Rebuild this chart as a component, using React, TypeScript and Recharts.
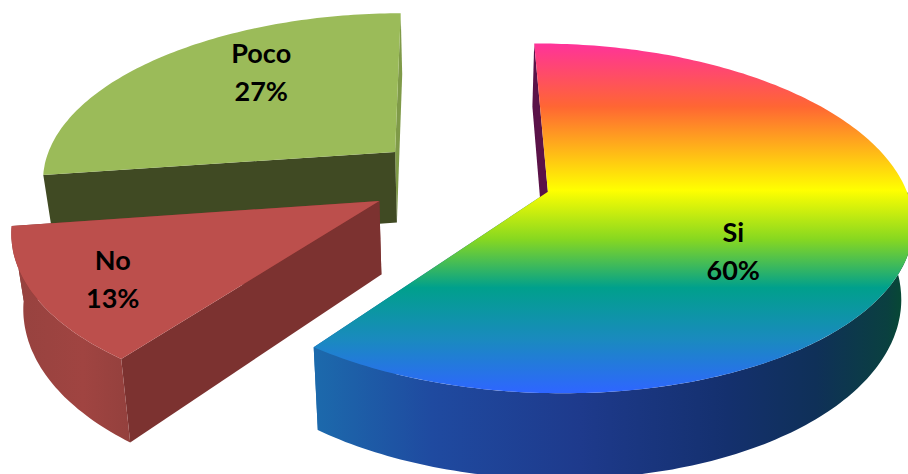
import React from 'react';
import { PieChart, Pie } from 'recharts';

const categories = ['Poco', 'No', 'Si'];
const shares = [27.1, 12.5, 60.4];

const topFills = ['#9bbb59', '#bc4f4c', 'url(#siTop)'];
const wallFills = [null, 'url(#noWall)', 'url(#siWall)'];
const startCutFills = ['#7f9a48', '#7c3230', '#1c6aac'];
const endCutFills = ['#404a23', '#7c3230', '#5a1248'];
const labelRadii = [0.62, 0.85, 0.56];

const siTopStops: Array<[number, string]> = [
  [0, '#ff3399'],
  [0.18, '#ff6633'],
  [0.42, '#ffff00'],
  [0.56, '#88d820'],
  [0.7, '#00a08c'],
  [0.85, '#1a8abf'],
  [1, '#2e66ff'],
];
const siWallStops: Array<[number, string]> = [
  [0, '#1c6aac'],
  [0.2, '#1f4aa0'],
  [0.45, '#1e3a8c'],
  [0.7, '#14306e'],
  [0.85, '#0f3058'],
  [0.97, '#0a4040'],
  [1, '#064a32'],
];

const ASPECT = 167 / 355;
const PERSPECTIVE = 0.15;
const DEPTH = 72;
const TAPER = 0.027;
const EXPLODE = 0.243;
// small per-slice corrections in pixels
const sliceNudges = [[-3, -5], [-7, -3], [3, -4]];
const labelNudges = [[15, -21], [12, -5], [-9, 25]];

const rad = (a: number) => (a * Math.PI) / 180;

function projector(cx: number, cy: number, r: number, midAngle: number, index: number) {
  const ox = EXPLODE * Math.cos(rad(midAngle));
  const oy = -EXPLODE * Math.sin(rad(midAngle));
  const [nx, ny] = sliceNudges[index];
  return (angle: number, f: number, h: number) => {
    const u = ox + f * Math.cos(rad(angle));
    const v = oy - f * Math.sin(rad(angle));
    const s = 1 / (1 - PERSPECTIVE * v);
    const x = cx + r * u * s * (1 - TAPER * h) + nx;
    const y = cy + r * ASPECT * v * s + DEPTH * s * h + ny;
    return `${x.toFixed(1)},${y.toFixed(1)}`;
  };
}

function arc(p: ReturnType<typeof projector>, from: number, to: number, h: number) {
  const pts: string[] = [];
  const n = Math.max(2, Math.ceil(Math.abs(to - from)));
  for (let i = 0; i <= n; i++) pts.push(p(from + ((to - from) * i) / n, 1, h));
  return pts;
}

function Slice(props: any) {
  const { cx, cy, outerRadius, startAngle, endAngle, midAngle, index } = props;
  const p = projector(cx, cy, outerRadius, midAngle, index);
  const a0 = startAngle;
  const a1 = endAngle;
  const top = [p(a0, 0, 0), ...arc(p, a0, a1, 0)];
  // only the part of the rim facing the viewer gets a wall (angles below the horizon)
  const wFrom = Math.max(a0, 180);
  const wTo = Math.min(a1, 360);
  const wall = wallFills[index] && wTo > wFrom ? [...arc(p, wFrom, wTo, 0), ...arc(p, wTo, wFrom, 1)] : null;
  const startCut = [p(a0, 0, 0), p(a0, 1, 0), p(a0, 1, 1), p(a0, 0, 1)];
  const endCut = [p(a1, 0, 0), p(a1, 1, 0), p(a1, 1, 1), p(a1, 0, 1)];
  return (
    <g>
      <polygon points={startCut.join(' ')} fill={startCutFills[index]} />
      <polygon points={endCut.join(' ')} fill={endCutFills[index]} />
      {wall && <polygon points={wall.join(' ')} fill={wallFills[index] as string} />}
      <polygon points={top.join(' ')} fill={topFills[index]} />
    </g>
  );
}

function SliceLabel(props: any) {
  const { cx, cy, outerRadius, midAngle, percent, index, name } = props;
  const ox = (EXPLODE + labelRadii[index]) * Math.cos(rad(midAngle));
  const oy = -(EXPLODE + labelRadii[index]) * Math.sin(rad(midAngle));
  const s = 1 / (1 - 0.135 * oy);
  const x = cx + outerRadius * ox * s + labelNudges[index][0];
  const y = cy + 170 * oy * s + labelNudges[index][1];
  return (
    <text
      x={x}
      y={y}
      textAnchor="middle"
      fill="#000"
      fontFamily="Lato"
      fontWeight={700}
      fontSize={27}
    >
      <tspan x={x} dy={-10}>{name}</tspan>
      <tspan x={x} dy={38}>{`${Math.round(percent * 100)}%`}</tspan>
    </text>
  );
}

const data = categories.map((name, i) => ({ name, value: shares[i] }));

export default function App() {
  return (
    <div style={{ position: 'absolute', left: 0, top: 0, width: 908, height: 474, background: '#fff' }}>
      <PieChart width={908} height={474} margin={{ top: 0, right: 0, bottom: 0, left: 0 }}>
        <defs>
          <linearGradient id="siTop" gradientUnits="userSpaceOnUse" x1="0" y1="44" x2="0" y2="392">
            {siTopStops.map(([o, c]) => (
              <stop key={o} offset={o} stopColor={c} />
            ))}
          </linearGradient>
          <linearGradient id="siWall" gradientUnits="userSpaceOnUse" x1="314" y1="0" x2="905" y2="0">
            {siWallStops.map(([o, c]) => (
              <stop key={o} offset={o} stopColor={c} />
            ))}
          </linearGradient>
          <linearGradient id="noWall" gradientUnits="userSpaceOnUse" x1="10" y1="0" x2="132" y2="0">
            <stop offset={0} stopColor="#96423f" />
            <stop offset={0.6} stopColor="#a04441" />
            <stop offset={1} stopColor="#93403d" />
          </linearGradient>
        </defs>
        <Pie
          data={data}
          dataKey="value"
          nameKey="name"
          cx={462}
          cy={183}
          outerRadius={355}
          startAngle={90.5}
          endAngle={450.5}
          paddingAngle={0}
          stroke="none"
          shape={Slice}
          label={SliceLabel}
          labelLine={false}
          isAnimationActive={false}
        />
      </PieChart>
    </div>
  );
}
